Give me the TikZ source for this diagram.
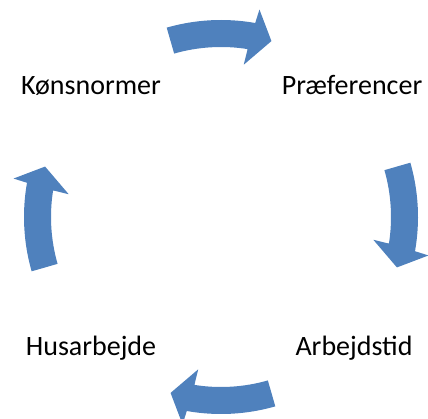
\documentclass[tikz,border=0pt]{standalone}
\usepackage{fontspec}
\setmainfont{Carlito}
\usepackage{tikz}
\usetikzlibrary{positioning}
\definecolor{cycblue}{RGB}{79,129,189}
\tikzset{
  lbl/.style={anchor=base, inner sep=0pt, text=black,
    font=\fontsize{28}{34}\selectfont},
  cyclearrow/.pic={
    \fill[cycblue] (106:197) arc[start angle=106, end angle=80, radius=197]
      -- (79.5:211) -- (74:183) -- (81.5:154) -- (81:170)
      arc[start angle=81, end angle=106, radius=170] -- cycle;
  }
}

\begin{document}
\begin{tikzpicture}[x=1pt, y=1pt]
  \useasboundingbox (0,0) rectangle (428,418);
  \coordinate (c) at (221,201);

  \node [lbl] (kon) at (91,323) {Kønsnormer};
  \node [lbl] (pref) at (352,323) {Præferencer};
  \node [lbl] (arb) at (354,63) {Arbejdstid};
  \node [lbl] (hus) at (91,63) {Husarbejde};

  \pic at (c) {cyclearrow};
  \pic [rotate=-90] at (c) {cyclearrow};
  \pic [rotate=-180] at (c) {cyclearrow};
  \pic [rotate=-270] at (c) {cyclearrow};
\end{tikzpicture}
\end{document}
